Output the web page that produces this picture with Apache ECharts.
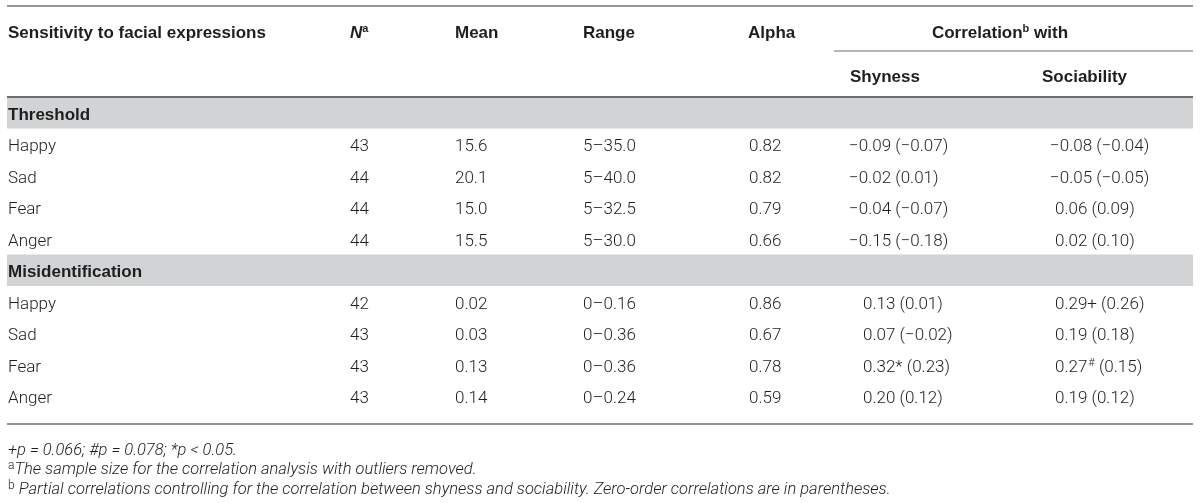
<!DOCTYPE html>
<html>
<head>
<meta charset="utf-8">
<script src="https://cdn.jsdelivr.net/npm/echarts@6/dist/echarts.min.js"></script>
<style>
html, body { margin: 0; padding: 0; background: #fff; }
#main { width: 1200px; height: 503px; }
</style>
</head>
<body>
<div id="main"></div>
<script>
// table content
var sections = ['Threshold', 'Misidentification'];
var emotions = ['Happy', 'Sad', 'Fear', 'Anger'];

var thrN = [43, 44, 44, 44];
var thrMean = ['15.6', '20.1', '15.0', '15.5'];
var thrRange = ['5–35.0', '5–40.0', '5–32.5', '5–30.0'];
var thrAlpha = ['0.82', '0.82', '0.79', '0.66'];
var thrShy = [-0.09, -0.02, -0.04, -0.15];
var thrShyZero = [-0.07, 0.01, -0.07, -0.18];
var thrSoc = [-0.08, -0.05, 0.06, 0.02];
var thrSocZero = [-0.04, -0.05, 0.09, 0.10];
var thrShyMark = ['', '', '', ''];
var thrSocMark = ['', '', '', ''];

var misN = [42, 43, 43, 43];
var misMean = ['0.02', '0.03', '0.13', '0.14'];
var misRange = ['0–0.16', '0–0.36', '0–0.36', '0–0.24'];
var misAlpha = ['0.86', '0.67', '0.78', '0.59'];
var misShy = [0.13, 0.07, 0.32, 0.20];
var misShyZero = [0.01, -0.02, 0.23, 0.12];
var misSoc = [0.29, 0.19, 0.27, 0.19];
var misSocZero = [0.26, 0.18, 0.15, 0.12];
var misShyMark = ['', '', '*', ''];
var misSocMark = ['+', '', '#', ''];

var footnotes = [
    ['', '+p = 0.066; #p = 0.078; *p < 0.05.'],
    ['a', 'The sample size for the correlation analysis with outliers removed.'],
    ['b', ' Partial correlations controlling for the correlation between shyness and sociability. Zero-order correlations are in parentheses.']
];

// layout
var colX = [8, 350, 455, 583, 749, 863, 1055];
var negHang = [0, 0, 0, 0, 0, 14, 5];
var DY = 2.5; // canvas middle sits a bit high
var TEXT = '#1e1e1e';
var LINE = '#6d6e71';
var BAND = '#d1d3d4';
var BODY_FONT = '300 17px Roboto, "Liberation Sans", sans-serif';
var HEAD_FONT = 'bold 17px "Liberation Sans", Arial, sans-serif';

var fmt = function (v) {
    return (v < 0 ? '−' : '') + Math.abs(v).toFixed(2);
};
var corr = function (v, mark, zero) {
    var s = '{m|' + fmt(v) + '}';
    if (mark === '#') {
        s += '{sup|#}';
    } else if (mark) {
        s += '{m|' + mark + '}';
    }
    return s + '{m| (' + fmt(zero) + ')}';
};

var cells = [];
var rowKeys = [];
var addBlock = function (title, n, mean, range, alpha, shy, shyMark, shyZero, soc, socMark, socZero) {
    var r = rowKeys.length;
    rowKeys.push(title);
    cells.push({ col: 0, row: r, text: title, section: true });
    for (var i = 0; i < emotions.length; i++) {
        r = rowKeys.length;
        rowKeys.push(title + '-' + emotions[i]);
        cells.push({ col: 0, row: r, text: '{m|' + emotions[i] + '}' });
        cells.push({ col: 1, row: r, text: '{m|' + n[i] + '}' });
        cells.push({ col: 2, row: r, text: '{m|' + mean[i] + '}' });
        cells.push({ col: 3, row: r, text: '{m|' + range[i] + '}' });
        cells.push({ col: 4, row: r, text: '{m|' + alpha[i] + '}' });
        cells.push({ col: 5, row: r, text: corr(shy[i], shyMark[i], shyZero[i]), neg: shy[i] < 0 });
        cells.push({ col: 6, row: r, text: corr(soc[i], socMark[i], socZero[i]), neg: soc[i] < 0 });
    }
};
addBlock(sections[0], thrN, thrMean, thrRange, thrAlpha, thrShy, thrShyMark, thrShyZero, thrSoc, thrSocMark, thrSocZero);
addBlock(sections[1], misN, misMean, misRange, misAlpha, misShy, misShyMark, misShyZero, misSoc, misSocMark, misSocZero);

var bodyRich = {
    m: { font: BODY_FONT, fill: TEXT, lineHeight: 20 },
    sup: { font: '300 11px Roboto, "Liberation Sans", sans-serif', fill: TEXT, lineHeight: 20, verticalAlign: 'top', padding: [0, 0, 0, 1] }
};

var headText = function (x, y, text, align) {
    return {
        type: 'text', x: x, y: y + DY, silent: true,
        style: {
            text: text, textAlign: align || 'left', textVerticalAlign: 'middle',
            font: HEAD_FONT, fill: TEXT,
            rich: {
                h: { font: HEAD_FONT, fill: TEXT, lineHeight: 20 },
                hi: { font: 'italic bold 17px "Liberation Sans", Arial, sans-serif', fill: TEXT, lineHeight: 20 },
                hs: { font: 'bold 11px "Liberation Sans", Arial, sans-serif', fill: TEXT, lineHeight: 20, verticalAlign: 'top' }
            }
        }
    };
};
var hline = function (x1, x2, y, w, color) {
    return {
        type: 'line', silent: true,
        shape: { x1: x1, y1: y, x2: x2, y2: y },
        style: { stroke: color, lineWidth: w }
    };
};

var graphics = [
    hline(7, 1193, 6, 2, '#939598'),
    headText(8, 31, '{h|Sensitivity to facial expressions}'),
    headText(colX[1], 31, '{hi|N}{hs|a}'),
    headText(colX[2], 31, '{h|Mean}'),
    headText(colX[3], 31, '{h|Range}'),
    headText(colX[4] - 1, 31, '{h|Alpha}'),
    headText(1000, 31, '{h|Correlation}{hs|b}{h| with}', 'center'),
    hline(834, 1193, 51, 1, LINE),
    headText(850, 75, '{h|Shyness}'),
    headText(1042, 75, '{h|Sociability}'),
    hline(7, 1193, 424, 1.5, LINE)
];
var footY = [448, 467, 487];
footnotes.forEach(function (f, i) {
    graphics.push({
        type: 'text', x: 8, y: footY[i] + DY, silent: true,
        style: {
            text: (f[0] ? '{s|' + f[0] + '}' : '') + '{i|' + f[1] + '}',
            textVerticalAlign: 'middle',
            rich: {
                i: { font: 'italic 300 16.5px Roboto, "Liberation Sans", sans-serif', fill: TEXT, lineHeight: 19 },
                s: { font: '300 12px Roboto, "Liberation Sans", sans-serif', fill: TEXT, lineHeight: 19, verticalAlign: 'top' }
            }
        }
    });
});

var myChart = echarts.init(document.getElementById('main'), null, { renderer: 'canvas' });
var option = {
    animation: false,
    backgroundColor: '#fff',
    grid: { left: 0, right: 0, top: 97, height: 315 },
    xAxis: { type: 'value', min: 0, max: 1200, show: false },
    yAxis: { type: 'category', data: rowKeys, inverse: true, show: false },
    graphic: graphics,
    series: [{
        type: 'custom',
        data: cells.map(function (c, i) { return [colX[c.col], c.row, i]; }),
        encode: { x: 0, y: 1 },
        renderItem: function (params, api) {
            var c = cells[api.value(2)];
            var p = api.coord([api.value(0), api.value(1)]);
            var x = p[0] - (c.neg ? negHang[c.col] : 0);
            if (c.section) {
                var h = api.size([0, 1])[1];
                var left = api.coord([7, c.row])[0];
                var right = api.coord([1193, c.row])[0];
                return {
                    type: 'group',
                    children: [
                        { type: 'rect', shape: { x: left, y: p[1] - h / 2, width: right - left, height: h }, style: { fill: BAND } },
                        c.row === 0 ? { type: 'rect', shape: { x: left, y: p[1] - h / 2 - 1, width: right - left, height: 2 }, style: { fill: LINE } } : null,
                        { type: 'text', x: x, y: p[1] + DY, style: { text: c.text, font: HEAD_FONT, fill: TEXT, textVerticalAlign: 'middle' } }
                    ].filter(function (e) { return e; })
                };
            }
            return {
                type: 'text', x: x, y: p[1] + DY,
                style: { text: c.text, rich: bodyRich, textVerticalAlign: 'middle' }
            };
        }
    }]
};
myChart.setOption(option);
</script>
</body>
</html>
